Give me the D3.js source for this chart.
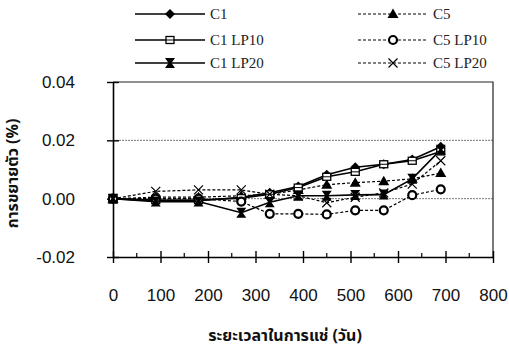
<!DOCTYPE html>
<html>
<head>
<meta charset="utf-8">
<script src="https://cdn.jsdelivr.net/npm/d3@7"></script>
<style>
  body { margin: 0; background: #fff; }
  svg { display: block; }
  .tick text { font-family: "Liberation Sans", Arial, sans-serif; font-size: 17px; fill: #111; }
  .legend text { font-family: "Liberation Serif", "Times New Roman", serif; font-size: 15px; fill: #222; }
  .title { font-family: "Noto Sans Thai", "Loma", "Garuda", "Noto Sans", sans-serif; font-size: 16px; font-weight: bold; fill: #111; }
</style>
</head>
<body>
<div id="chart"></div>
<script>
// days of immersion
var days = [0, 90, 180, 270, 330, 390, 450, 510, 570, 630, 690];

// expansion (%)
var c1     = [0, -0.0007, -0.0007, 0.0005, 0.002, 0.0042, 0.0082, 0.0108, 0.0118, 0.0134, 0.0178];
var c1lp10 = [0, -0.0005, -0.0005, 0.0002, 0.0015, 0.0038, 0.0075, 0.0092, 0.0118, 0.0130, 0.0162];
var c1lp20 = [0, -0.001, -0.001, -0.0048, -0.0012, 0.001, 0.001, 0.0013, 0.0014, 0.0068, 0.0168];
var c5     = [0, 0.0005, 0.0005, 0.001, 0.0015, 0.003, 0.0048, 0.0055, 0.006, 0.0068, 0.0088];
var c5lp10 = [0, 0, 0, -0.001, -0.0052, -0.0052, -0.0054, -0.004, -0.004, 0.0012, 0.0032];
var c5lp20 = [0, 0.0025, 0.003, 0.003, 0.0015, 0.001, -0.0014, 0.0005, 0.002, 0.005, 0.013];

var seriesNames = ['C1', 'C5', 'C1 LP10', 'C5 LP10', 'C1 LP20', 'C5 LP20'];
var xTicks = [0, 100, 200, 300, 400, 500, 600, 700, 800];
var yTicks = [-0.02, 0, 0.02, 0.04];

var width = 509;
var height = 353;
var plotLeft = 113, plotRight = 493, plotTop = 82, plotBottom = 257;

var svg = d3.select('#chart').append('svg')
    .attr('width', width)
    .attr('height', height);

var x = d3.scaleLinear().domain([0, 800]).range([plotLeft, plotRight]);
var y = d3.scaleLinear().domain([-0.02, 0.04]).range([plotBottom, plotTop]);

// grid lines at 0.02 and 0.00
svg.append('g').selectAll('line')
    .data([0, 0.02])
    .enter().append('line')
    .attr('x1', plotLeft).attr('x2', plotRight)
    .attr('y1', d => y(d)).attr('y2', d => y(d))
    .attr('stroke', '#777')
    .attr('stroke-width', 1)
    .attr('stroke-dasharray', '2,1');

// top + right border
svg.append('path')
    .attr('d', `M${plotLeft},${plotTop}H${plotRight}V${plotBottom}`)
    .attr('fill', 'none')
    .attr('stroke', '#222')
    .attr('stroke-width', 1.2);

// x axis: major crossing ticks every 100, minor every 50
var xAxis = d3.axisBottom(x).tickValues(xTicks).tickSize(0).tickPadding(32).tickFormat(d3.format('d'));
var gx = svg.append('g')
    .attr('transform', `translate(0,${plotBottom})`)
    .call(xAxis);
gx.select('.domain').attr('stroke', '#000').attr('stroke-width', 1.6);
gx.selectAll('.tick line').remove();
gx.selectAll('.tick').append('line')
    .attr('y1', -6).attr('y2', 6)
    .attr('stroke', '#000').attr('stroke-width', 1.4);
gx.append('g').selectAll('line')
    .data(d3.range(50, 800, 100))
    .enter().append('line')
    .attr('x1', d => x(d)).attr('x2', d => x(d))
    .attr('y1', -4).attr('y2', 0)
    .attr('stroke', '#000').attr('stroke-width', 1.2);

// y axis (plain hyphen for the minus sign, like the original)
var yAxis = d3.axisLeft(y).tickValues(yTicks).tickSize(0).tickPadding(38)
    .tickFormat(d => d3.format('.2f')(d).replace('\u2212', '-'));
var gy = svg.append('g')
    .attr('transform', `translate(${plotLeft},0)`)
    .call(yAxis);
gy.select('.domain').attr('stroke', '#000').attr('stroke-width', 1.6);
gy.selectAll('.tick line').remove();
gy.selectAll('.tick').append('line')
    .attr('x1', -6).attr('x2', 6)
    .attr('stroke', '#000').attr('stroke-width', 1.4);

// markers
function marker(g, type, cx, cy) {
    var s = 5;
    if (type === 'diamond') {
        g.append('path').attr('d', `M${cx},${cy - s}L${cx + s},${cy}L${cx},${cy + s}L${cx - s},${cy}Z`).attr('fill', '#000');
    } else if (type === 'square') {
        g.append('rect').attr('x', cx - 4).attr('y', cy - 3.5).attr('width', 8).attr('height', 7)
            .attr('fill', '#fff').attr('stroke', '#000').attr('stroke-width', 1.3);
        g.append('line').attr('x1', cx - 4).attr('x2', cx + 4).attr('y1', cy).attr('y2', cy).attr('stroke', '#000');
    } else if (type === 'star') {
        g.append('path').attr('d', `M${cx - 5},${cy - 5}L${cx + 5},${cy - 5}L${cx + 1.5},${cy}L${cx + 5},${cy + 5}L${cx - 5},${cy + 5}L${cx - 1.5},${cy}Z`).attr('fill', '#000');
    } else if (type === 'triangle') {
        g.append('path').attr('d', `M${cx},${cy - 5.5}L${cx + 5.5},${cy + 4}L${cx - 5.5},${cy + 4}Z`).attr('fill', '#000');
    } else if (type === 'circle') {
        g.append('circle').attr('cx', cx).attr('cy', cy).attr('r', 4)
            .attr('fill', '#fff').attr('stroke', '#000').attr('stroke-width', 2.2);
    } else if (type === 'cross') {
        g.append('path').attr('d', `M${cx - 4.5},${cy - 4.5}L${cx + 4.5},${cy + 4.5}M${cx - 4.5},${cy + 4.5}L${cx + 4.5},${cy - 4.5}`)
            .attr('stroke', '#000').attr('stroke-width', 1.2);
    }
}

var series = [
    { name: 'C1', values: c1, marker: 'diamond', dash: null },
    { name: 'C5', values: c5, marker: 'triangle', dash: '3,2' },
    { name: 'C1 LP10', values: c1lp10, marker: 'square', dash: null },
    { name: 'C5 LP10', values: c5lp10, marker: 'circle', dash: '3,2' },
    { name: 'C1 LP20', values: c1lp20, marker: 'star', dash: null },
    { name: 'C5 LP20', values: c5lp20, marker: 'cross', dash: '3,2' }
];

var line = d3.line()
    .x(d => x(d[0]))
    .y(d => y(d[1]));

var plot = svg.append('g');
series.forEach(s => {
    var pts = days.map((d, i) => [d, s.values[i]]);
    plot.append('path')
        .datum(pts)
        .attr('d', line)
        .attr('fill', 'none')
        .attr('stroke', '#000')
        .attr('stroke-width', s.dash ? 1.2 : 1.6)
        .attr('stroke-dasharray', s.dash);
});
series.forEach(s => {
    var g = plot.append('g');
    days.forEach((d, i) => marker(g, s.marker, x(d), y(s.values[i])));
});

// legend
var legend = svg.append('g').attr('class', 'legend');
var legendRows = [14, 40, 63];
series.forEach((s, i) => {
    var col = i % 2;
    var row = Math.floor(i / 2);
    var x0 = col === 0 ? 135 : 358;
    var ly = legendRows[row];
    legend.append('line')
        .attr('x1', x0).attr('x2', x0 + 70)
        .attr('y1', ly).attr('y2', ly)
        .attr('stroke', '#000')
        .attr('stroke-width', s.dash ? 1 : 1.5)
        .attr('stroke-dasharray', s.dash);
    marker(legend, s.marker, x0 + 35, ly);
    legend.append('text')
        .attr('x', x0 + 75)
        .attr('y', ly + 5)
        .text(s.name);
});

// axis titles
svg.append('text')
    .attr('class', 'title')
    .attr('text-anchor', 'middle')
    .attr('transform', `translate(18,${(plotTop + plotBottom) / 2 + 4}) rotate(-90)`)
    .text('การขยายตัว (%)');

svg.append('text')
    .attr('class', 'title')
    .attr('text-anchor', 'middle')
    .attr('x', 285)
    .attr('y', 341)
    .text('ระยะเวลาในการแช่ (วัน)');
</script>
</body>
</html>
